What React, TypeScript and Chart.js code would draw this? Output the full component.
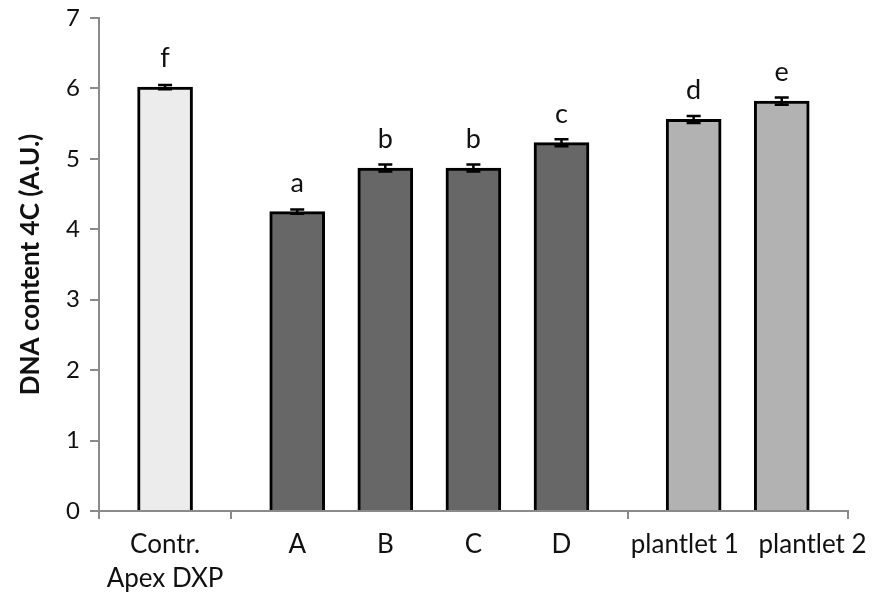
import { useEffect, useRef } from 'react';
import { Chart, registerables } from 'chart.js';

Chart.register(...registerables);

// ---- data ----
const categories: (string | string[])[] = [['Contr.', 'Apex DXP'], 'A', 'B', 'C', 'D', 'plantlet 1', 'plantlet 2'];
const groupSizes = [1, 4, 2];
const dnaContent = [6.02, 4.25, 4.87, 4.87, 5.23, 5.56, 5.82];
const errorBars = [0.03, 0.03, 0.05, 0.05, 0.05, 0.05, 0.05];
const significance = ['f', 'a', 'b', 'b', 'c', 'd', 'e'];
const yTicks = [0, 1, 2, 3, 4, 5, 6, 7];
const yTitle = 'DNA content 4C (A.U.)';

// ---- styles ----
const groupColors = ['#ececec', '#676767', '#b2b2b2'];
const axisGray = '#8a8a8a';
const textColor = '#111111';
const fontFamily = 'Lato, "Open Sans", sans-serif';
// horizontal nudge of category labels (in slot units) to avoid overlap, as in the original
const labelNudge = [0, 0, 0, 0, 0, -0.2, 0.7];

// slot layout derived from the group structure (blank slot before each bar, one after group)
const centers: number[] = [];
const boundaries: number[] = [0];
const barColors: string[] = [];
let slot = 0;
groupSizes.forEach((n, g) => {
  for (let k = 0; k < n; k++) {
    centers.push(slot + 1 + 2 * k + 0.5);
    barColors.push(groupColors[g]);
  }
  slot += 1 + 2 * n;
  boundaries.push(slot);
});
const span = slot;

const annotate = {
  id: 'annotate',
  afterDatasetsDraw(chart: any) {
    const { ctx } = chart;
    const xs = chart.scales.x;
    const ys = chart.scales.y;
    ctx.save();
    ctx.strokeStyle = '#000';
    ctx.lineWidth = 2.5;
    dnaContent.forEach((v, i) => {
      const px = xs.getPixelForValue(centers[i]);
      const top = ys.getPixelForValue(v + errorBars[i]);
      const bot = ys.getPixelForValue(v - errorBars[i]);
      ctx.beginPath();
      ctx.moveTo(px, top);
      ctx.lineTo(px, bot);
      ctx.moveTo(px - 7, top);
      ctx.lineTo(px + 7, top);
      ctx.moveTo(px - 7, bot);
      ctx.lineTo(px + 7, bot);
      ctx.stroke();
    });
    ctx.fillStyle = textColor;
    ctx.font = `27px ${fontFamily}`;
    ctx.textAlign = 'center';
    ctx.textBaseline = 'alphabetic';
    dnaContent.forEach((v, i) => {
      const px = xs.getPixelForValue(centers[i]);
      const py = ys.getPixelForValue(v) - 20;
      ctx.fillText(significance[i], px, py);
    });
    ctx.restore();
  },
};

export default function App() {
  const ref = useRef<HTMLCanvasElement>(null);
  useEffect(() => {
    if (!ref.current) return;
    const chart = new Chart(ref.current, {
      type: 'bar',
      data: {
        datasets: [
          {
            data: centers.map((x, i) => ({ x, y: dnaContent[i] })),
            backgroundColor: barColors,
            borderColor: '#000000',
            borderWidth: 3,
            barThickness: 55,
            borderSkipped: 'start',
          } as any,
        ],
      },
      options: {
        responsive: false,
        animation: false,
        layout: { padding: { top: 18, right: 29, left: 0, bottom: 0 } },
        plugins: { legend: { display: false }, tooltip: { enabled: false } },
        scales: {
          x: {
            type: 'linear',
            min: 0,
            max: span,
            offset: false,
            position: 'bottom',
            weight: 0,
            afterBuildTicks: (sc: any) => {
              sc.ticks = boundaries.map((v) => ({ value: v }));
            },
            afterFit: (sc: any) => {
              sc.height = 8;
            },
            ticks: { display: false },
            grid: { offset: false, drawOnChartArea: false, drawTicks: true, tickLength: 8, color: axisGray, lineWidth: 2 },
            border: { display: true, color: axisGray, width: 2 },
          },
          xl: {
            type: 'linear',
            axis: 'x',
            min: 0,
            max: span,
            offset: false,
            position: 'bottom',
            weight: 1,
            afterBuildTicks: (sc: any) => {
              sc.ticks = centers.map((v, i) => ({ value: v + labelNudge[i] }));
            },
            afterFit: (sc: any) => {
              sc.height = 79;
            },
            ticks: {
              padding: 9,
              autoSkip: false,
              maxRotation: 0,
              color: textColor,
              font: { family: fontFamily, size: 26, lineHeight: 34 / 26 },
              callback: (_v: any, i: number) => categories[i],
            },
            grid: { display: false, drawTicks: false, offset: false },
            border: { display: false },
          } as any,
          y: {
            min: 0,
            max: 7,
            afterBuildTicks: (sc: any) => {
              sc.ticks = yTicks.map((v) => ({ value: v }));
            },
            afterFit: (sc: any) => {
              sc.width = 99;
            },
            ticks: { padding: 10, color: textColor, font: { family: fontFamily, size: 24, lineHeight: 0.6 } },
            grid: { drawOnChartArea: false, tickLength: 9, color: axisGray, lineWidth: 2 },
            border: { color: axisGray, width: 2 },
            title: {
              display: true,
              text: yTitle,
              color: textColor,
              font: { family: fontFamily, size: 26, weight: 'bold' },
              padding: { top: 15, bottom: 0 },
            },
          },
        },
      },
      plugins: [annotate],
    });
    return () => chart.destroy();
  }, []);
  return (
    <div style={{ position: 'absolute', left: 0, top: 0, width: 877, height: 598 }}>
      <canvas ref={ref} width={877} height={598} />
    </div>
  );
}
